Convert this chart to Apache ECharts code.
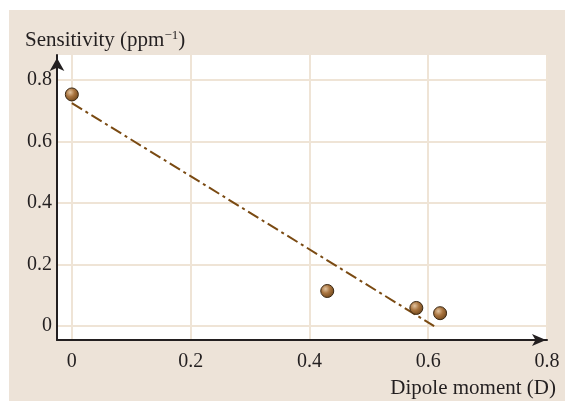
<!DOCTYPE html>
<html>
<head>
<meta charset="utf-8">
<script src="https://cdn.jsdelivr.net/npm/echarts@6/dist/echarts.min.js"></script>
<style>
  html, body { margin: 0; padding: 0; background: #fff; }
  #chart { width: 565px; height: 402px; }
</style>
</head>
<body>
<div id="chart"></div>
<script>
// measured points
const dipole = [0, 0.43, 0.58, 0.62]
const sensitivity = [0.752, 0.114, 0.059, 0.042]
// fitted line (end points)
const fitX = [0, 0.61]
const fitY = [0.724, 0]
const xTicks = [0, 0.2, 0.4, 0.6, 0.8]
const yTicks = [0, 0.2, 0.4, 0.6, 0.8]

const ink = '#231f20'
const beige = '#ede3d8'
const serif = '"Liberation Serif", "Times New Roman", serif'

const chart = echarts.init(document.getElementById('chart'))

const ball = new echarts.graphic.RadialGradient(0.38, 0.35, 0.7, [
  { offset: 0, color: '#e2c4a0' },
  { offset: 0.45, color: '#a9743f' },
  { offset: 1, color: '#6b4318' }
])

chart.setOption({
  animation: false,
  graphic: [{
    type: 'rect', z: -10, silent: true,
    shape: { x: 9, y: 10, width: 556, height: 391 },
    style: { fill: beige }
  }],
  title: [{
    text: '{a|Sensitivity (ppm}{s|−1}{a|)}',
    left: 20, top: 24,
    textStyle: {
      fontWeight: 'normal',
      rich: {
        a: { fontFamily: serif, fontSize: 21, fontWeight: 'normal', color: ink, lineHeight: 22 },
        s: { fontFamily: serif, fontSize: 13, fontWeight: 'normal', color: ink, lineHeight: 13, verticalAlign: 'top' }
      }
    }
  }, {
    text: 'Dipole moment (D)',
    right: 4, top: 373,
    textStyle: { fontFamily: serif, fontSize: 21, fontWeight: 'normal', color: ink }
  }],
  grid: {
    left: 57, top: 55, right: 18, bottom: 62,
    show: true, backgroundColor: '#fff', borderWidth: 0
  },
  xAxis: {
    type: 'value', min: -0.025, max: 0.8,
    axisLine: {
      onZero: false,
      lineStyle: { color: ink, width: 2 },
      symbol: ['none', 'arrow'], symbolSize: [9, 14], symbolOffset: [0, -1]
    },
    axisTick: { show: false, customValues: xTicks },
    axisLabel: {
      customValues: xTicks, margin: 12,
      fontFamily: serif, fontSize: 20, color: ink
    },
    splitLine: { show: true, lineStyle: { color: '#efe4d6', width: 2 } }
  },
  yAxis: {
    type: 'value', min: -0.045, max: 0.88,
    axisLine: {
      onZero: false,
      lineStyle: { color: ink, width: 2 },
      symbol: ['none', 'arrow'], symbolSize: [11, 13], symbolOffset: [0, -3]
    },
    axisTick: { show: false, customValues: yTicks },
    axisLabel: {
      customValues: yTicks, margin: 5,
      fontFamily: serif, fontSize: 20, color: ink
    },
    splitLine: { show: true, lineStyle: { color: '#efe4d6', width: 2 } }
  },
  series: [{
    type: 'line',
    data: fitX.map((x, i) => [x, fitY[i]]),
    symbol: 'none',
    lineStyle: { color: '#7a4a12', width: 2, type: [12, 4, 3, 4] },
    z: 2
  }, {
    type: 'scatter',
    data: dipole.map((x, i) => [x, sensitivity[i]]),
    symbol: 'circle', symbolSize: 13,
    itemStyle: { color: ball, borderColor: '#3a2814', borderWidth: 1, opacity: 1 },
    z: 3
  }]
})
</script>
</body>
</html>
